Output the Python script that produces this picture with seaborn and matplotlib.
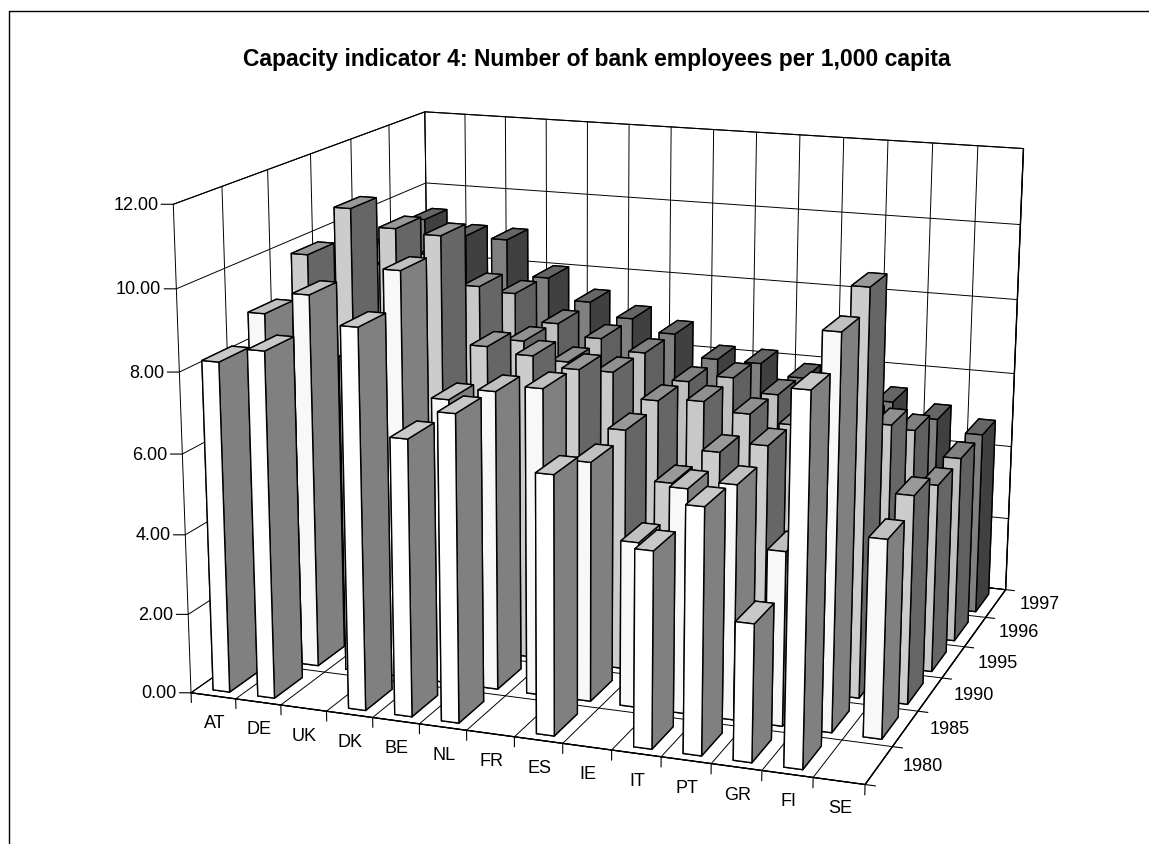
import numpy as np
import matplotlib
matplotlib.use("Agg")
import matplotlib.pyplot as plt
import seaborn as sns
from matplotlib.lines import Line2D
from mpl_toolkits.mplot3d import proj3d

countries = ["AT", "DE", "UK", "DK", "BE", "NL", "FR", "ES", "IE", "IT", "PT", "GR", "FI", "SE"]
years = ["1980", "1985", "1990", "1995", "1996", "1997"]
nan = float("nan")

# values, hidden bars are estimates
y1980 = [8.23, 8.60, nan, 9.37, 6.82, 7.54, nan, 6.33, nan, 4.78, 5.95, 3.33, 8.86, nan]
y1985 = [8.87, 9.43, 7.98, 10.21, 7.16, 7.47, 7.65, 5.97, 4.12, 5.57, 5.79, 4.30, 9.62, 4.86]
y1990 = [9.85, 11.10, 10.68, 10.59, 7.91, 7.78, 7.54, 6.13, 4.91, 5.81, 6.09, 5.94, 10.15, 5.22]
y1995 = [9.43, 9.19, 9.55, 8.82, 7.50, 7.06, 6.90, 6.27, 6.36, 6.15, 5.98, 5.61, 6.21, 4.80]
y1996 = [9.21, 8.82, 8.12, 8.13, 7.42, 7.12, 6.84, 6.18, 6.39, 6.05, 5.88, 5.59, 5.45, 4.83]
y1997 = [9.40, 9.03, 9.01, 8.05, 7.48, 7.12, 6.80, 6.21, 6.20, 5.91, 5.96, 5.48, 5.12, 4.82]
rows = [y1980, y1985, y1990, y1995, y1996, y1997]

# front, top, side grey per year
front = ["#ffffff", "#f8f8f8", "#cccccc", "#c8c8c8", "#c0c0c0", "#808080"]
top = ["#c8c8c8", "#c0c0c0", "#999999", "#909090", "#808080", "#666666"]
side = ["#808080", "#808080", "#666666", "#666666", "#606060", "#404040"]

sns.set_theme(style="white")
plt.rcParams["font.family"] = ["Liberation Sans", "DejaVu Sans"]

fig = plt.figure(figsize=(11.49, 8.45), dpi=100)
ax = fig.add_axes([116.7 / 1149, -72.0 / 845, 982.2 / 1149, 982.2 / 845], projection="3d")
ax.set_facecolor("none")
ax.computed_zorder = False
ax.view_init(14.898, -70.443, -0.244)
ax.set_proj_type("persp", focal_length=0.5432)
ax.set_box_aspect((1.402, 1.2191, 1.0))

ax.set_xticks(range(15))
ax.set_yticks(range(7))
ax.set_zticks(range(0, 13, 2))
ax.set_xticklabels([])
ax.set_yticklabels([])
ax.set_zticklabels([])
for axis in (ax.xaxis, ax.yaxis, ax.zaxis):
    axis.set_pane_color((1, 1, 1, 1))
    axis.pane.set_edgecolor("black")
    axis.pane.set_linewidth(0.8)
    axis.line.set_color("black")
    axis.line.set_linewidth(1.0)
    axis._axinfo["grid"].update(color="black", linewidth=0.7)
    axis._axinfo["tick"].update(inward_factor=0, outward_factor=0)
ax.grid(True)

# tick marks
for i in range(15):
    ax.plot([i, i], [0, 0], [0, -0.25], color="black", lw=0.8)
for j in range(7):
    ax.plot([14, 14.2], [j, j], [0, 0], color="black", lw=0.8)
for z in range(0, 13, 2):
    ax.plot([0, -0.22], [0, -0.04], [z, z], color="black", lw=0.8)

# back rows first, left to right, so the nearer bars paint over
for j in range(5, -1, -1):
    colors = ["white", top[j], front[j], "white", "white", side[j]]
    for i in range(14):
        if np.isnan(rows[j][i]):
            continue
        ax.bar3d(i + 0.34, j + 0.15, 0, 0.37, 0.63, rows[j][i], color=colors,
                 shade=False, edgecolor="black", linewidth=1.0)

ax.set_xlim(0, 14, view_margin=0)
ax.set_ylim(0, 6, view_margin=0)
ax.set_zlim(0, 12, view_margin=0)

M = ax.get_proj()


def label(text, x, y, z, dx, dy, ha="center"):
    px, py, _ = proj3d.proj_transform(x, y, z, M)
    ax.annotate(text, (px, py), xytext=(dx, dy), textcoords="offset pixels",
                ha=ha, va="center", fontsize=13, color="black", annotation_clip=False)


for i, name in enumerate(countries):
    label(name, i + 0.5, 0, 0, 1, -27)
for j, name in enumerate(years):
    label(name, 14, j + 0.5, 0, 44, 0)
for z in range(0, 13, 2):
    label("%.2f" % z, 0, 0, z, -15, 0, ha="right")

fig.text(597 / 1149, 1 - 66 / 845, "Capacity indicator 4: Number of bank employees per 1,000 capita",
         ha="center", va="baseline", fontsize=16.5, fontweight="bold", color="black")

# only left and top of the outer frame are inside the picture
fig.add_artist(Line2D([9 / 1149, 9 / 1149, 1], [0, 1 - 12 / 845, 1 - 12 / 845], color="black", lw=1.0))

fig.savefig("out.png", dpi=100)
